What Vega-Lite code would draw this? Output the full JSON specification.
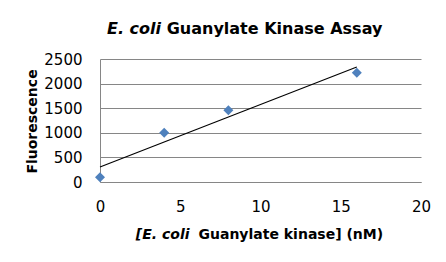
{
  "$schema": "https://vega.github.io/schema/vega-lite/v6.json",
  "width": 321,
  "height": 123,
  "autosize": "none",
  "padding": {"left": 100, "top": 59, "right": 25, "bottom": 80},
  "background": "white",
  "config": {
    "view": {"stroke": null},
    "font": "DejaVu Sans",
    "axis": {"labelFont": "DejaVu Sans", "titleFont": "DejaVu Sans", "labelColor": "#000", "titleColor": "#000"}
  },
  "title": {
    "text": "E. coli",
    "subtitle": "Guanylate Kinase Assay",
    "anchor": "start",
    "frame": "group",
    "font": "DejaVu Sans",
    "fontSize": 16,
    "fontWeight": "bold",
    "fontStyle": "italic",
    "color": "#000",
    "subtitleFont": "DejaVu Sans",
    "subtitleFontSize": 16,
    "subtitleFontWeight": "bold",
    "subtitleFontStyle": "normal",
    "subtitleColor": "#000",
    "subtitlePadding": -16,
    "dx": 66.7,
    "offset": 15,
    "encoding": {"dx": {"value": 7}}
  },
  "data": {
    "values": [
      {"x": 0, "y": 95},
      {"x": 4, "y": 1000},
      {"x": 8, "y": 1460},
      {"x": 16, "y": 2220}
    ]
  },
  "layer": [
    {
      "mark": {"type": "point", "shape": "diamond", "filled": true, "size": 100, "color": "#4F81BD", "opacity": 1},
      "encoding": {
        "x": {
          "field": "x", "type": "quantitative",
          "scale": {"domain": [0, 20], "nice": false},
          "axis": {
            "orient": "bottom",
            "values": [0, 5, 10, 15, 20],
            "grid": false,
            "ticks": false,
            "tickSize": 0,
            "domainColor": "#868686",
            "domainWidth": 1,
            "labelFontSize": 15,
            "labelPadding": 17,
            "labelFlush": false,
            "labelOverlap": false,
            "title": "[E. coli",
            "titleFontSize": 14,
            "titleFontWeight": "bold",
            "titleFontStyle": "italic",
            "titleAlign": "right",
            "titleBaseline": "alphabetic",
            "titleX": 89,
            "titleY": 56.5
          }
        },
        "y": {
          "field": "y", "type": "quantitative",
          "scale": {"domain": [0, 2500], "nice": false},
          "axis": {
            "values": [0, 500, 1000, 1500, 2000, 2500],
            "format": "d",
            "grid": true,
            "gridColor": "#868686",
            "gridWidth": 1,
            "ticks": false,
            "tickSize": 0,
            "domainColor": "#868686",
            "domainWidth": 1,
            "labelFontSize": 15,
            "labelPadding": 18,
            "labelFlush": false,
            "labelOverlap": false,
            "title": "Fluorescence",
            "titleFontSize": 14,
            "titleFontWeight": "bold",
            "titleBaseline": "alphabetic",
            "titleX": -63.3,
            "titleY": 62,
            "titleAngle": -90,
            "titleAlign": "center"
          }
        }
      }
    },
    {
      "transform": [{"regression": "y", "on": "x", "extent": [0, 16]}],
      "mark": {"type": "line", "color": "#000", "strokeWidth": 1.1},
      "encoding": {
        "x": {
          "field": "x", "type": "quantitative",
          "scale": {"domain": [0, 20], "nice": false},
          "axis": {
            "orient": "bottom",
            "labels": false,
            "grid": false,
            "ticks": false,
            "domain": false,
            "title": "Guanylate kinase] (nM)",
            "titleFontSize": 14,
            "titleFontWeight": "bold",
            "titleFontStyle": "normal",
            "titleAlign": "left",
            "titleBaseline": "alphabetic",
            "titleX": 98,
            "titleY": 56.5
          }
        },
        "y": {
          "field": "y", "type": "quantitative",
          "scale": {"domain": [0, 2500], "nice": false},
          "axis": {
            "values": [0, 500, 1000, 1500, 2000, 2500],
            "format": "d",
            "grid": true,
            "gridColor": "#868686",
            "gridWidth": 1,
            "ticks": false,
            "tickSize": 0,
            "domainColor": "#868686",
            "domainWidth": 1,
            "labelFontSize": 15,
            "labelPadding": 18,
            "labelFlush": false,
            "labelOverlap": false,
            "title": "Fluorescence",
            "titleFontSize": 14,
            "titleFontWeight": "bold",
            "titleBaseline": "alphabetic",
            "titleX": -63.3,
            "titleY": 62,
            "titleAngle": -90,
            "titleAlign": "center"
          }
        }
      }
    }
  ],
  "resolve": {"axis": {"x": "independent"}}
}
